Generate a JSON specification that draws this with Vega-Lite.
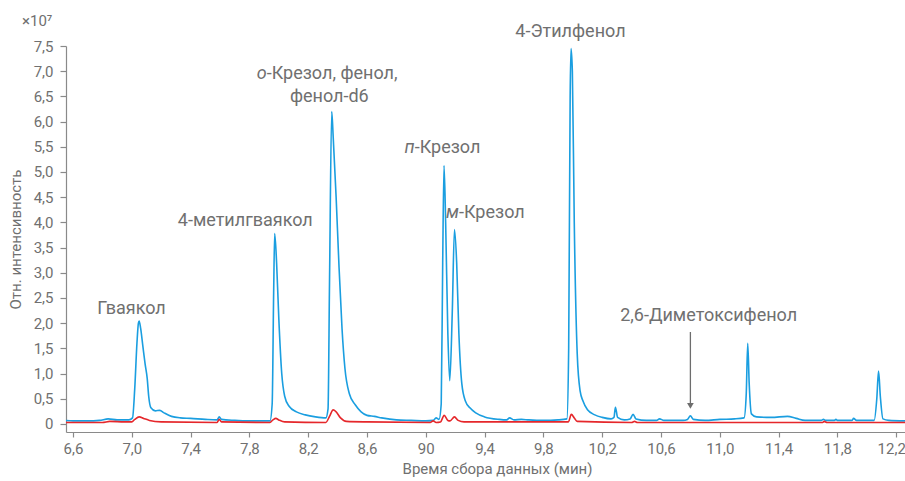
{
  "$schema": "https://vega.github.io/schema/vega-lite/v6.json",
  "width": 839,
  "height": 386,
  "autosize": "none",
  "padding": {"left": 66, "top": 46, "right": 0, "bottom": 49},
  "background": "white",
  "config": {
    "view": {"stroke": null},
    "font": "Roboto",
    "axis": {
      "grid": false,
      "labelFont": "Roboto",
      "labelFontSize": 15,
      "labelColor": "#707070",
      "titleFont": "Roboto",
      "titleFontSize": 15,
      "titleFontWeight": "normal",
      "titleColor": "#707070",
      "domainColor": "#8a8a8a",
      "tickColor": "#8a8a8a",
      "tickSize": 5,
      "domainWidth": 1.2,
      "tickWidth": 1.2
    }
  },
  "datasets": {
    "chrom": [
      {"s": "sample", "t": 6.55, "v": 0.07}, {"s": "sample", "t": 6.6, "v": 0.06}, {"s": "sample", "t": 6.7, "v": 0.06}, {"s": "sample", "t": 6.78, "v": 0.07}, {"s": "sample", "t": 6.84, "v": 0.1}, {"s": "sample", "t": 6.9, "v": 0.08}, {"s": "sample", "t": 6.98, "v": 0.08},
      {"s": "sample", "t": 7.005, "v": 0.12}, {"s": "sample", "t": 7.02, "v": 0.7}, {"s": "sample", "t": 7.035, "v": 1.6}, {"s": "sample", "t": 7.045, "v": 2.0}, {"s": "sample", "t": 7.05, "v": 2.04}, {"s": "sample", "t": 7.06, "v": 1.9}, {"s": "sample", "t": 7.075, "v": 1.55}, {"s": "sample", "t": 7.09, "v": 1.2}, {"s": "sample", "t": 7.105, "v": 0.9}, {"s": "sample", "t": 7.115, "v": 0.55}, {"s": "sample", "t": 7.13, "v": 0.32}, {"s": "sample", "t": 7.16, "v": 0.26}, {"s": "sample", "t": 7.19, "v": 0.27}, {"s": "sample", "t": 7.22, "v": 0.22}, {"s": "sample", "t": 7.27, "v": 0.15}, {"s": "sample", "t": 7.33, "v": 0.12}, {"s": "sample", "t": 7.4, "v": 0.11}, {"s": "sample", "t": 7.5, "v": 0.09}, {"s": "sample", "t": 7.58, "v": 0.08}, {"s": "sample", "t": 7.595, "v": 0.14}, {"s": "sample", "t": 7.61, "v": 0.09}, {"s": "sample", "t": 7.7, "v": 0.07}, {"s": "sample", "t": 7.8, "v": 0.06}, {"s": "sample", "t": 7.94, "v": 0.06},
      {"s": "sample", "t": 7.955, "v": 0.4}, {"s": "sample", "t": 7.965, "v": 2.6}, {"s": "sample", "t": 7.972, "v": 3.78}, {"s": "sample", "t": 7.985, "v": 3.2}, {"s": "sample", "t": 8.0, "v": 2.1}, {"s": "sample", "t": 8.02, "v": 1.0}, {"s": "sample", "t": 8.04, "v": 0.55}, {"s": "sample", "t": 8.07, "v": 0.35}, {"s": "sample", "t": 8.12, "v": 0.24}, {"s": "sample", "t": 8.18, "v": 0.18}, {"s": "sample", "t": 8.25, "v": 0.14}, {"s": "sample", "t": 8.32, "v": 0.12},
      {"s": "sample", "t": 8.335, "v": 0.3}, {"s": "sample", "t": 8.345, "v": 2.8}, {"s": "sample", "t": 8.36, "v": 6.2}, {"s": "sample", "t": 8.37, "v": 5.7}, {"s": "sample", "t": 8.39, "v": 4.5}, {"s": "sample", "t": 8.41, "v": 3.1}, {"s": "sample", "t": 8.43, "v": 1.9}, {"s": "sample", "t": 8.45, "v": 1.1}, {"s": "sample", "t": 8.48, "v": 0.6}, {"s": "sample", "t": 8.52, "v": 0.38}, {"s": "sample", "t": 8.56, "v": 0.24}, {"s": "sample", "t": 8.6, "v": 0.17}, {"s": "sample", "t": 8.65, "v": 0.15}, {"s": "sample", "t": 8.7, "v": 0.12}, {"s": "sample", "t": 8.8, "v": 0.08}, {"s": "sample", "t": 8.9, "v": 0.07}, {"s": "sample", "t": 9.0, "v": 0.06}, {"s": "sample", "t": 9.05, "v": 0.07}, {"s": "sample", "t": 9.07, "v": 0.12}, {"s": "sample", "t": 9.09, "v": 0.09},
      {"s": "sample", "t": 9.105, "v": 0.4}, {"s": "sample", "t": 9.115, "v": 3.2}, {"s": "sample", "t": 9.124, "v": 5.13}, {"s": "sample", "t": 9.135, "v": 4.0}, {"s": "sample", "t": 9.15, "v": 1.8}, {"s": "sample", "t": 9.163, "v": 0.86}, {"s": "sample", "t": 9.18, "v": 2.2}, {"s": "sample", "t": 9.195, "v": 3.86}, {"s": "sample", "t": 9.21, "v": 3.2}, {"s": "sample", "t": 9.225, "v": 1.8}, {"s": "sample", "t": 9.245, "v": 0.8}, {"s": "sample", "t": 9.27, "v": 0.45}, {"s": "sample", "t": 9.3, "v": 0.32}, {"s": "sample", "t": 9.34, "v": 0.22}, {"s": "sample", "t": 9.4, "v": 0.14}, {"s": "sample", "t": 9.5, "v": 0.09}, {"s": "sample", "t": 9.55, "v": 0.08}, {"s": "sample", "t": 9.57, "v": 0.12}, {"s": "sample", "t": 9.6, "v": 0.08}, {"s": "sample", "t": 9.65, "v": 0.09}, {"s": "sample", "t": 9.7, "v": 0.08}, {"s": "sample", "t": 9.8, "v": 0.07}, {"s": "sample", "t": 9.9, "v": 0.08}, {"s": "sample", "t": 9.96, "v": 0.1},
      {"s": "sample", "t": 9.972, "v": 1.5}, {"s": "sample", "t": 9.982, "v": 6.5}, {"s": "sample", "t": 9.988, "v": 7.45}, {"s": "sample", "t": 9.997, "v": 7.0}, {"s": "sample", "t": 10.01, "v": 4.0}, {"s": "sample", "t": 10.03, "v": 1.4}, {"s": "sample", "t": 10.05, "v": 0.65}, {"s": "sample", "t": 10.07, "v": 0.45}, {"s": "sample", "t": 10.1, "v": 0.28}, {"s": "sample", "t": 10.15, "v": 0.18}, {"s": "sample", "t": 10.2, "v": 0.13}, {"s": "sample", "t": 10.26, "v": 0.1}, {"s": "sample", "t": 10.28, "v": 0.13}, {"s": "sample", "t": 10.29, "v": 0.33}, {"s": "sample", "t": 10.305, "v": 0.13}, {"s": "sample", "t": 10.35, "v": 0.08}, {"s": "sample", "t": 10.39, "v": 0.1}, {"s": "sample", "t": 10.41, "v": 0.19}, {"s": "sample", "t": 10.43, "v": 0.1}, {"s": "sample", "t": 10.5, "v": 0.07}, {"s": "sample", "t": 10.57, "v": 0.07}, {"s": "sample", "t": 10.59, "v": 0.1}, {"s": "sample", "t": 10.62, "v": 0.07}, {"s": "sample", "t": 10.75, "v": 0.07}, {"s": "sample", "t": 10.78, "v": 0.09}, {"s": "sample", "t": 10.8, "v": 0.16}, {"s": "sample", "t": 10.82, "v": 0.09}, {"s": "sample", "t": 10.9, "v": 0.07}, {"s": "sample", "t": 11.0, "v": 0.09}, {"s": "sample", "t": 11.1, "v": 0.1}, {"s": "sample", "t": 11.165, "v": 0.12},
      {"s": "sample", "t": 11.18, "v": 0.6}, {"s": "sample", "t": 11.19, "v": 1.6}, {"s": "sample", "t": 11.2, "v": 0.8}, {"s": "sample", "t": 11.215, "v": 0.2}, {"s": "sample", "t": 11.25, "v": 0.14}, {"s": "sample", "t": 11.35, "v": 0.13}, {"s": "sample", "t": 11.46, "v": 0.15}, {"s": "sample", "t": 11.52, "v": 0.11}, {"s": "sample", "t": 11.58, "v": 0.07}, {"s": "sample", "t": 11.69, "v": 0.07}, {"s": "sample", "t": 11.705, "v": 0.09}, {"s": "sample", "t": 11.72, "v": 0.07}, {"s": "sample", "t": 11.78, "v": 0.07}, {"s": "sample", "t": 11.79, "v": 0.09}, {"s": "sample", "t": 11.8, "v": 0.07}, {"s": "sample", "t": 11.9, "v": 0.07}, {"s": "sample", "t": 11.91, "v": 0.11}, {"s": "sample", "t": 11.93, "v": 0.07}, {"s": "sample", "t": 12.05, "v": 0.07}, {"s": "sample", "t": 12.068, "v": 0.5}, {"s": "sample", "t": 12.08, "v": 1.05}, {"s": "sample", "t": 12.092, "v": 0.55}, {"s": "sample", "t": 12.11, "v": 0.1}, {"s": "sample", "t": 12.15, "v": 0.07}, {"s": "sample", "t": 12.26, "v": 0.06},
      {"s": "blank", "t": 6.55, "v": 0.03}, {"s": "blank", "t": 6.8, "v": 0.03}, {"s": "blank", "t": 6.85, "v": 0.05}, {"s": "blank", "t": 6.95, "v": 0.04}, {"s": "blank", "t": 7.0, "v": 0.04}, {"s": "blank", "t": 7.02, "v": 0.09}, {"s": "blank", "t": 7.05, "v": 0.14}, {"s": "blank", "t": 7.08, "v": 0.11}, {"s": "blank", "t": 7.12, "v": 0.07}, {"s": "blank", "t": 7.2, "v": 0.04}, {"s": "blank", "t": 7.58, "v": 0.03}, {"s": "blank", "t": 7.595, "v": 0.09}, {"s": "blank", "t": 7.61, "v": 0.04}, {"s": "blank", "t": 7.94, "v": 0.03}, {"s": "blank", "t": 7.96, "v": 0.08}, {"s": "blank", "t": 7.98, "v": 0.11}, {"s": "blank", "t": 8.0, "v": 0.08}, {"s": "blank", "t": 8.04, "v": 0.04}, {"s": "blank", "t": 8.32, "v": 0.03}, {"s": "blank", "t": 8.345, "v": 0.15}, {"s": "blank", "t": 8.37, "v": 0.28}, {"s": "blank", "t": 8.39, "v": 0.24}, {"s": "blank", "t": 8.42, "v": 0.12}, {"s": "blank", "t": 8.46, "v": 0.05}, {"s": "blank", "t": 8.6, "v": 0.04}, {"s": "blank", "t": 9.03, "v": 0.03}, {"s": "blank", "t": 9.05, "v": 0.06}, {"s": "blank", "t": 9.07, "v": 0.03}, {"s": "blank", "t": 9.1, "v": 0.04}, {"s": "blank", "t": 9.125, "v": 0.17}, {"s": "blank", "t": 9.15, "v": 0.07}, {"s": "blank", "t": 9.165, "v": 0.06}, {"s": "blank", "t": 9.195, "v": 0.14}, {"s": "blank", "t": 9.22, "v": 0.07}, {"s": "blank", "t": 9.26, "v": 0.04}, {"s": "blank", "t": 9.97, "v": 0.04}, {"s": "blank", "t": 9.99, "v": 0.19}, {"s": "blank", "t": 10.01, "v": 0.12}, {"s": "blank", "t": 10.03, "v": 0.05}, {"s": "blank", "t": 10.4, "v": 0.03}, {"s": "blank", "t": 10.42, "v": 0.05}, {"s": "blank", "t": 10.44, "v": 0.03}, {"s": "blank", "t": 11.7, "v": 0.03}, {"s": "blank", "t": 11.71, "v": 0.05}, {"s": "blank", "t": 11.73, "v": 0.03}, {"s": "blank", "t": 12.26, "v": 0.03}
    ],
    "labels": [
      {"part": "center", "text": "Гваякол", "t": 6.998, "v": 2.29},
      {"part": "center", "text": "4-метилгваякол", "t": 7.772, "v": 4.036},
      {"part": "center", "text": "фенол-d6", "t": 8.3435, "v": 6.488},
      {"part": "center", "text": "4-Этилфенол", "t": 9.984, "v": 7.778},
      {"part": "center", "text": "2,6-Диметоксифенол", "t": 10.924, "v": 2.137},
      {"part": "italic", "text": "о", "t": 7.918, "v": 6.952},
      {"part": "rest", "text": "-Крезол, фенол,", "t": 7.918, "v": 6.952},
      {"part": "italic", "text": "п", "t": 8.9245, "v": 5.484},
      {"part": "rest", "text": "-Крезол", "t": 8.9245, "v": 5.484},
      {"part": "italic", "text": "м", "t": 9.226, "v": 4.194},
      {"part": "rest", "text": "-Крезол", "t": 9.226, "v": 4.194}
    ],
    "unit": [
      {"text": "×10⁷", "t": 6.253, "v": 8.0}
    ],
    "arrow": [
      {"t": 10.8, "v": 1.825, "v2": 0.36}
    ]
  },
  "encoding": {
    "x": {
      "field": "t",
      "type": "quantitative",
      "scale": {"domain": [6.5524, 12.2599], "nice": false, "zero": false},
      "axis": {
        "title": "Время сбора данных (мин)",
        "values": [6.6, 7.0, 7.4, 7.8, 8.2, 8.6, 9.0, 9.4, 9.8, 10.2, 10.6, 11.0, 11.4, 11.8, 12.2],
        "labelExpr": "datum.value == 9 ? '90' : replace(format(datum.value, '.1f'), '.', ',')",
        "labelOffset": {"condition": {"test": "datum.value > 12", "value": -5}, "value": 0},
        "labelPadding": 4,
        "titlePadding": 5,
        "titleX": 431
      }
    },
    "y": {
      "field": "v",
      "type": "quantitative",
      "scale": {"domain": [-0.16, 7.5], "nice": false, "zero": false},
      "axis": {
        "title": "Отн. интенсивность",
        "values": [0, 0.5, 1, 1.5, 2, 2.5, 3, 3.5, 4, 4.5, 5, 5.5, 6, 6.5, 7, 7.5],
        "labelExpr": "datum.value == 0 ? '0' : replace(format(datum.value, '.1f'), '.', ',')",
        "tickSize": 6,
        "labelPadding": 7,
        "titlePadding": 10
      }
    }
  },
  "layer": [
    {
      "data": {"name": "chrom"},
      "transform": [{"filter": "datum.s == 'sample'"}],
      "mark": {"type": "line", "color": "#1a9ee0", "strokeWidth": 1.6, "interpolate": "monotone", "clip": true}
    },
    {
      "data": {"name": "chrom"},
      "transform": [{"filter": "datum.s == 'blank'"}],
      "mark": {"type": "line", "color": "#e5272b", "strokeWidth": 1.6, "interpolate": "monotone", "clip": true}
    },
    {
      "data": {"name": "arrow"},
      "mark": {"type": "rule", "color": "#6d6d6d", "strokeWidth": 1.3},
      "encoding": {"y2": {"field": "v2"}}
    },
    {
      "data": {"name": "arrow"},
      "mark": {"type": "point", "shape": "triangle-down", "filled": true, "size": 45, "color": "#6d6d6d", "opacity": 1},
      "encoding": {"y": {"field": "v2", "type": "quantitative"}}
    },
    {
      "data": {"name": "unit"},
      "mark": {"type": "text", "align": "left", "baseline": "middle", "font": "Roboto", "fontSize": 15, "color": "#707070"},
      "encoding": {"text": {"field": "text"}}
    },
    {
      "data": {"name": "labels"},
      "transform": [{"filter": "datum.part == 'center'"}],
      "mark": {"type": "text", "align": "center", "baseline": "middle", "font": "Roboto", "fontSize": 18, "color": "#707070"},
      "encoding": {"text": {"field": "text"}}
    },
    {
      "data": {"name": "labels"},
      "transform": [{"filter": "datum.part == 'italic'"}],
      "mark": {"type": "text", "align": "right", "baseline": "middle", "font": "Roboto", "fontStyle": "italic", "fontSize": 18, "color": "#707070"},
      "encoding": {"text": {"field": "text"}}
    },
    {
      "data": {"name": "labels"},
      "transform": [{"filter": "datum.part == 'rest'"}],
      "mark": {"type": "text", "align": "left", "baseline": "middle", "font": "Roboto", "fontSize": 18, "color": "#707070"},
      "encoding": {"text": {"field": "text"}}
    }
  ]
}
